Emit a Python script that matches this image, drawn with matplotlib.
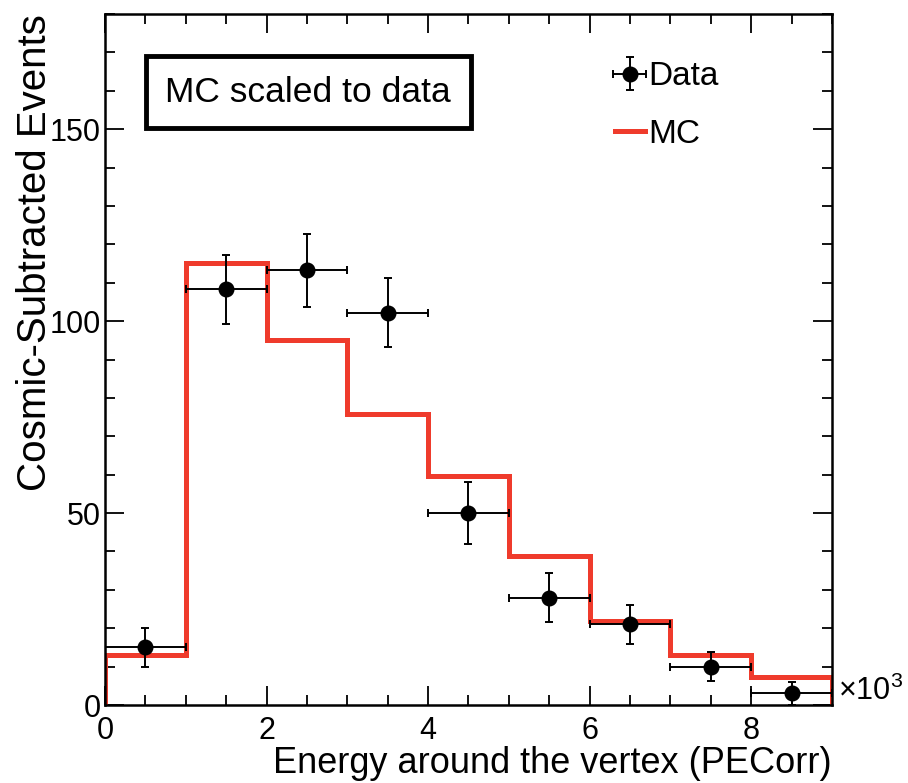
import numpy as np
import matplotlib
matplotlib.use("Agg")
import matplotlib.pyplot as plt
from matplotlib.lines import Line2D
from matplotlib.ticker import MultipleLocator

plt.rcParams['font.family'] = ['Liberation Sans', 'DejaVu Sans']
plt.rcParams['mathtext.default'] = 'regular'

# bin edges in units of 10^3 PECorr
bin_edges = [0, 1, 2, 3, 4, 5, 6, 7, 8, 9]
data_x = [0.5, 1.5, 2.5, 3.5, 4.5, 5.5, 6.5, 7.5, 8.5]
data_y = [15, 108.3, 113.2, 102.2, 50, 28, 21, 10, 3]
data_err = [5, 9, 9.5, 9, 8, 6.3, 5, 3.7, 3]
data_xerr = [0.5] * 9
mc_y = [12.9, 115.2, 95.2, 75.9, 59.7, 38.7, 22, 12.9, 7.4]

red = '#ef3b2c'

fig = plt.figure(figsize=(9.08, 7.83), dpi=100)
ax = fig.add_axes([0.1156, 0.0996, 0.8007, 0.8825])

ax.stairs(mc_y, bin_edges, baseline=0, color=red, lw=3.6, zorder=2)
eb = ax.errorbar(data_x, data_y, yerr=data_err, xerr=data_xerr, fmt='o', color='black',
                 ms=10.5, elinewidth=1.4, capsize=3, capthick=1.4, zorder=3)

ax.set_xlim(0, 9)
ax.set_ylim(0, 180)

ax.xaxis.set_major_locator(MultipleLocator(2))
ax.xaxis.set_minor_locator(MultipleLocator(0.5))
ax.yaxis.set_major_locator(MultipleLocator(50))
ax.yaxis.set_minor_locator(MultipleLocator(10))
ax.tick_params(which='both', direction='in', top=True, right=True, labelsize=22)
ax.tick_params(which='major', length=14, width=1.3)
ax.tick_params(which='minor', length=7, width=1.3)
ax.tick_params(axis='x', pad=8)
ax.tick_params(axis='y', pad=3)
for s in ax.spines.values():
    s.set_linewidth(1.8)

ax.set_xlabel('Energy around the vertex (PECorr)', fontsize=26, loc='right', va='bottom')
ax.xaxis.set_label_coords(1.0, -0.11)
ax.set_ylabel('Cosmic-Subtracted Events', fontsize=29, loc='top')
ax.yaxis.set_label_coords(-0.07, 1.0)

ax.text(1.008, 0.02, '×10$^{3}$', transform=ax.transAxes, fontsize=22,
        ha='left', va='center')

ax.text(0.083, 0.887, 'MC scaled to data', transform=ax.transAxes, fontsize=25.5,
        ha='left', va='center',
        bbox=dict(boxstyle='square,pad=0.55', fc='white', ec='black', lw=3.5))

mc_handle = Line2D([], [], color=red, lw=3.6)
ax.legend([eb, mc_handle], ['Data', 'MC'], loc='upper left',
          bbox_to_anchor=(0.66, 0.975), frameon=False, fontsize=24,
          handlelength=0.9, handletextpad=0.1, labelspacing=0.8)

fig.savefig('out.png', dpi=100)
